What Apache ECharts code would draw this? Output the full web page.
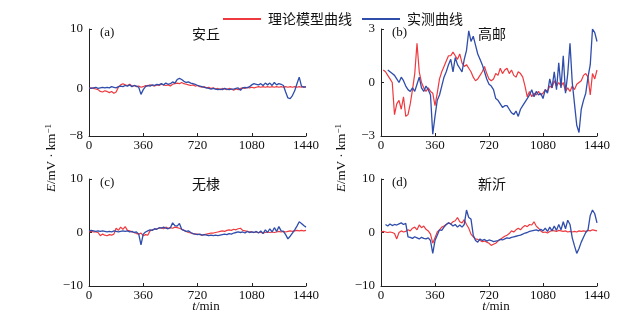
<!DOCTYPE html>
<html>
<head>
<meta charset="utf-8">
<script src="https://cdn.jsdelivr.net/npm/echarts@6/dist/echarts.min.js"></script>
<style>
  html, body { margin: 0; padding: 0; background: #fff; }
  #chart { width: 644px; height: 316px; }
</style>
</head>
<body>
<div id="chart"></div>
<script>
// 采样时间 (min)，步长 15
const minutes = Array.from({length: 97}, (_, i) => i * 15);
const xTicks = [0, 360, 720, 1080, 1440];

const stations = ['安丘', '高邮', '无棣', '新沂'];
const panelTags = ['(a)', '(b)', '(c)', '(d)'];
const yRanges = [[-8, 10], [-3, 3], [-10, 10], [-10, 10]];
const yTickLabels = [[-8, 0, 10], [-3, 0, 3], [-10, 0, 10], [-10, 0, 10]];

// (a) 安丘
const modelA = [
  0.0, 0.1, 0.0, -0.1, -0.2, -0.5, -0.6, -0.4,
  -0.5, -0.7, -0.5, -0.8, -0.6, 0.2, 0.6, 0.8,
  0.6, 0.5, 0.7, 0.4, 0.5, 0.3, 0.4, 0.2,
  0.3, 0.5, 0.4, 0.6, 0.5, 0.4, 0.6, 0.5,
  0.7, 0.6, 0.5, 0.6, 0.4, 0.7, 0.8, 0.9,
  0.8, 1.0, 0.8, 0.7, 0.6, 0.5, 0.6, 0.4,
  0.5, 0.3, 0.2, 0.3, 0.1, 0.2, 0.0, 0.1,
  -0.1, 0.0, -0.2, 0.0, -0.1, -0.2, 0.0, -0.1,
  -0.3, -0.1, -0.2, 0.0, 0.1, 0.0, 0.2, 0.1,
  0.2, 0.1, 0.2, 0.3, 0.2, 0.3, 0.2, 0.3,
  0.2, 0.3, 0.2, 0.3, 0.2, 0.3, 0.2, 0.3,
  0.2, 0.3, 0.2, 0.3, 0.2, 0.3, 0.2, 0.3,
  0.2
];
const measA = [
  0.1, 0.0, 0.1, 0.2, 0.0, 0.1, 0.2, 0.1,
  0.2, 0.1, 0.3, 0.2, 0.1, 0.3, 0.4, 0.3,
  0.5, 0.4, 0.6, 0.3, 0.5, 0.4, 0.2, -1.0,
  -0.2, 0.3, 0.5, 0.4, 0.6, 0.5, 0.7, 0.6,
  0.8, 0.6, 0.9, 0.7, 0.8, 1.1, 0.9, 1.5,
  1.7, 1.5, 1.2, 1.0, 1.1, 0.9, 0.8, 0.7,
  0.5, 0.4, 0.3, 0.2, 0.1, 0.0, -0.1, 0.0,
  -0.1, -0.2, -0.1, -0.2, 0.0, -0.1, -0.2, -0.1,
  -0.1, 0.0, 0.1, -0.3, 0.1, 0.2, 0.1, 0.3,
  0.6, 0.8, 0.7, 0.6, 0.8, 0.5, 0.9, 0.6,
  0.9, 0.5, 1.0, 0.6, 0.8, 0.7, 0.5, -0.6,
  -1.6, -1.7, -1.2, -0.4, 0.8, 1.9, 0.4, 0.2,
  0.3
];

// (b) 高邮
const modelB = [
  null, 0.7, 0.6, 0.4, 0.2, 0.0, -1.8, -1.2,
  -1.0, -1.5, -0.8, -1.9, -1.8, -1.2, -0.4, 0.5,
  2.2, 0.6, 0.0, -0.3, -0.5, -0.3, -0.5, -0.6,
  -1.3, -0.6, 0.2, 0.6, 0.9, 1.2, 1.5, 1.5,
  1.7, 1.5, 1.3, 1.6, 1.1, 0.9, 1.0, 0.8,
  0.6, 0.3, 0.1, 0.2, 0.4, 0.6, 0.9, 0.5,
  0.2, 0.1, 0.2, 0.5, 0.4, 0.8, 0.5, 0.7,
  0.8, 0.5, 0.7, 0.4, 0.3, 0.6, 0.5, 0.3,
  -0.2, -0.8, -0.5, -0.8, -0.6, -0.7, -0.5, -0.7,
  -0.6, -0.4, -0.5, -0.2, -0.3, 0.1, -0.2, 0.0,
  -0.2, 0.0, -0.5, -0.3, -0.5, -0.2, -0.4, -0.1,
  0.0, 0.1, 0.4, 0.5, 0.3, -0.7, 0.5, 0.2,
  0.7
];
const measB = [
  null, null, null, 0.7, 0.6, 0.5, 0.4, 0.2,
  0.0, 0.3, 0.1, -0.2, -0.4, -0.5, -0.3, -0.5,
  -0.1, 0.3, -0.3, -0.5, -0.2, -0.4, -0.7, -2.9,
  -1.9, -1.0, -0.7, -0.2, 0.3, 0.6, 1.0, 1.3,
  0.6, 1.4, 1.0, 0.8, 0.6, 1.3, 1.8, 2.9,
  2.3, 2.6, 2.1, 1.6, 1.3, 1.0, 0.6, 0.2,
  -0.1, -0.2, -0.4, -0.9, -1.0, -1.2, -1.4, -1.3,
  -1.3, -1.5, -1.7, -1.8, -1.6, -1.9, -1.5, -1.3,
  -1.1, -0.9, -0.7, -0.4, -0.8, -0.5, -0.7, -0.6,
  -0.9, -0.4, -0.6, 0.2, -0.3, 0.6, -0.4, 1.1,
  -0.3, 1.5, -0.6, 0.5, 2.2, 0.0, -1.2, -2.4,
  -2.8, -1.5, -1.0, -0.6, 0.3, 1.0, 3.0, 2.8,
  2.3
];

// (c) 无棣
const modelC = [
  0.1, 0.2, 0.1, 0.1, 0.0, -0.6, -0.3, -0.5,
  -0.6, -0.4, -0.5, -0.3, 0.8, 0.4, 1.0, 0.6,
  1.1, 0.4, 0.3, 0.1, 0.0, -0.2, -0.3, -0.1,
  -0.6, -0.4, -0.5, 0.3, 0.5, 0.6, 0.7, 0.8,
  0.9, 0.7, 1.0, 0.8, 0.9, 0.8, 1.0, 0.9,
  0.8, 0.6, 0.4, 0.2, 0.0, -0.1, -0.2, -0.3,
  -0.3, -0.4, -0.5, -0.4, -0.3, -0.2, -0.1, -0.1,
  0.0, 0.1, 0.2, 0.3, 0.2, 0.4, 0.5, 0.4,
  0.6, 0.5, 0.7, 0.8, 0.4, 0.3, 0.2, 0.1,
  0.1, 0.0, 0.1, 0.0, 0.0, -0.1, 0.0, 0.1,
  0.0, 0.1, 0.0, 0.1, 0.2, 0.1, 0.2, 0.1,
  0.2, 0.3, 0.2, 0.3, 0.4, 0.3, 0.4, 0.3,
  0.4
];
const measC = [
  0.3, 0.4, 0.3, 0.2, 0.3, 0.2, 0.3, 0.2,
  0.1, 0.2, 0.1, 0.3, 0.2, 0.1, 0.2, 0.3,
  0.2, 0.3, 0.1, 0.2, 0.0, 0.1, -0.3, -2.3,
  -0.3, 0.1, 0.3, 0.5, 0.4, 0.7, 0.6, 0.9,
  0.8, 1.0, 0.8, 0.7, 0.9, 1.8, 1.3, 1.2,
  1.7, 0.6, 0.4, 0.2, 0.3, 0.0, -0.2, -0.3,
  -0.4, -0.3, -0.5, -0.4, -0.5, -0.6, -0.5, -0.6,
  -0.5, -0.6, -0.5, -0.4, -0.3, -0.4, -0.2, -0.3,
  -0.1, 0.0, 0.1, 0.0, 0.1, -0.1, 0.2, 0.0,
  0.1, 0.0, 0.2, -0.1, 0.3, -0.2, 0.5, 0.0,
  0.7, 0.1, 0.9, 0.2, 1.1, 0.3, 0.2, -0.4,
  -1.2, -0.7, -0.1, 0.5, 1.2, 2.0, 1.7, 1.3,
  1.0
];

// (d) 新沂
const modelD = [
  0.1, 0.2, 0.1, 0.0, 0.1, 0.0, -0.2, -1.2,
  0.0, 0.3, 0.1, 0.2, 0.5, 0.3, 0.8, 1.0,
  0.5, 1.4, 0.9, 1.2, 0.6, 0.3, -0.3, -2.0,
  -1.0, 0.1, 0.5, 1.0, 1.2, 1.5, 1.8, 1.6,
  2.0, 2.2, 2.8, 2.0, 1.8, 2.4, 1.5, 0.8,
  -0.3, -0.8, -1.2, -1.3, -1.5, -1.7, -1.6, -1.8,
  -2.0, -2.4, -2.2, -2.0, -1.6, -1.3, -1.0, -0.7,
  -0.5, -0.2, 0.3, 0.1, 0.5, 0.8, 0.5, 1.0,
  1.3, 1.1, 1.5, 1.4, 2.0, 1.2, 0.8, 0.3,
  0.0, 0.1, -0.1, 0.2, 0.4, 0.3, 0.2, 0.4,
  0.3, 0.2, 0.3, 0.1, 0.2, 0.1, 0.2, 0.1,
  0.3, 0.2, 0.3, 0.2, 0.4, 0.3, 0.5, 0.4,
  0.3
];
const measD = [
  null, null, 1.5, 1.2, 1.6, 1.3, 1.5, 1.4,
  1.6, 1.8, 1.5, 1.7, -0.8, -0.9, -1.1, -0.8,
  -1.0, -1.2, -0.9, -1.1, -1.2, -1.0, -1.5, -3.9,
  -1.5, -0.5, 0.5, 0.4, 1.0, 1.5, 1.8, 1.6,
  1.2, 1.5, 1.0, 1.4, 1.0, 1.5, 4.2, 2.8,
  2.5, -0.5, -1.5, -1.8, -1.2, -1.5, -1.3, -1.6,
  -1.4, -1.5, -1.7, -1.6, -1.5, -1.3, -1.4, -1.2,
  -1.0, -1.1, -0.9, -0.8, -0.7, -0.6, -0.5, -0.3,
  -0.1, 0.0, 0.2, 0.3, 0.4, 0.5, 0.3, 0.6,
  0.3, 0.8, 0.2, 1.0, 0.3, 1.2, 0.4, 1.5,
  0.5, 2.0, 0.7, 2.3, 1.5, -1.0, -2.5, -3.9,
  -3.0, -1.8, -0.9, 0.0, 0.5, 3.2, 4.2, 3.5,
  1.8
];

const modelSeries = [modelA, modelB, modelC, modelD];
const measSeries = [measA, measB, measC, measD];

const RED = '#ee3a3f';
const BLUE = '#2f4dab';
const serif = '"Liberation Serif", "DejaVu Serif", serif';
const cjk = '"Noto Sans CJK SC", sans-serif';

const grids = [
  {left: 89, top: 29, width: 217, height: 107},
  {left: 381, top: 29, width: 216, height: 107},
  {left: 89, top: 179, width: 217, height: 107},
  {left: 381, top: 179, width: 216, height: 107}
];

const fmtMinus = v => String(v).replace('-', '\u2212');

const xAxes = grids.map((g, i) => ({
  type: 'value', gridIndex: i, min: 0, max: 1440, interval: 360,
  axisLine: {show: true, onZero: false, lineStyle: {color: '#222', width: 1}},
  axisTick: {show: true, inside: true, length: 3, customValues: xTicks, lineStyle: {color: '#222'}},
  axisLabel: {color: '#111', fontFamily: serif, fontSize: 13, margin: 3,
    customValues: xTicks, formatter: v => String(v)},
  splitLine: {show: false}
}));

const yAxes = grids.map((g, i) => ({
  type: 'value', gridIndex: i, min: yRanges[i][0], max: yRanges[i][1],
  axisLine: {show: true, onZero: false, lineStyle: {color: '#222', width: 1}},
  axisTick: {show: true, inside: true, length: 3, customValues: yTickLabels[i], lineStyle: {color: '#222'}},
  axisLabel: {color: '#111', fontFamily: serif, fontSize: 13, margin: 6,
    customValues: yTickLabels[i], formatter: fmtMinus},
  splitLine: {show: false}
}));

const series = [];
for (let i = 0; i < 4; i++) {
  series.push({
    name: '理论模型曲线', type: 'line', xAxisIndex: i, yAxisIndex: i,
    data: minutes.map((t, k) => [t, modelSeries[i][k]]),
    showSymbol: false, connectNulls: false,
    lineStyle: {color: RED, width: 1.2}, itemStyle: {color: RED}
  });
  series.push({
    name: '实测曲线', type: 'line', xAxisIndex: i, yAxisIndex: i,
    data: minutes.map((t, k) => [t, measSeries[i][k]]),
    showSymbol: false, connectNulls: false,
    lineStyle: {color: BLUE, width: 1.3}, itemStyle: {color: BLUE}
  });
}

const graphics = [];
const tagPos = [[100, 34], [392, 34], [100, 184], [392, 184]];
const namePos = [[206, 34], [492, 34], [206, 184], [492, 184]];
for (let i = 0; i < 4; i++) {
  graphics.push({type: 'text', left: tagPos[i][0], top: tagPos[i][1] - 8,
    style: {text: panelTags[i], font: '13px ' + serif, fill: '#111'}});
  graphics.push({type: 'text', x: namePos[i][0], y: namePos[i][1],
    style: {text: stations[i], font: '14px ' + cjk, fill: '#111', align: 'center', verticalAlign: 'middle'}});
}
// 纵轴名称
[[52, 158], [342, 158]].forEach(p => {
  graphics.push({type: 'text', x: p[0], y: p[1], rotation: Math.PI / 2,
    style: {
      text: '{i|E}{n|/mV · km}{s|−1}',
      align: 'center', verticalAlign: 'middle',
      rich: {
        i: {font: 'italic 13px ' + serif, fill: '#111'},
        n: {font: '13px ' + serif, fill: '#111'},
        s: {font: '9px ' + serif, fill: '#111', verticalAlign: 'top', padding: [0, 0, 6, 0]}
      }
    }});
});
// 横轴名称
[[206, 307], [496, 307]].forEach(p => {
  graphics.push({type: 'text', x: p[0], y: p[1],
    style: {
      text: '{i|t}{n|/min}', align: 'center', verticalAlign: 'middle',
      rich: {
        i: {font: 'italic 13px ' + serif, fill: '#111'},
        n: {font: '13px ' + serif, fill: '#111'}
      }
    }});
});

const chart = echarts.init(document.getElementById('chart'));
chart.setOption({
  animation: false,
  backgroundColor: '#fff',
  legend: {
    left: 218, top: 7, itemWidth: 38, itemHeight: 2, itemGap: 10,
    icon: 'rect',
    data: [{name: '理论模型曲线', itemStyle: {color: RED}}, {name: '实测曲线', itemStyle: {color: BLUE}}],
    textStyle: {fontFamily: cjk, fontSize: 14, color: '#111', padding: [0, 0, 0, 2]}
  },
  grid: grids,
  xAxis: xAxes,
  yAxis: yAxes,
  series: series,
  graphic: graphics
});
</script>
</body>
</html>
